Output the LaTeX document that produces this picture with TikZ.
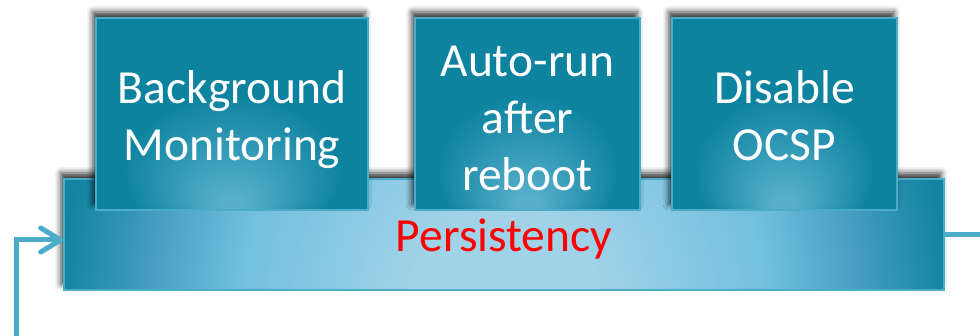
\documentclass[tikz,border=0pt]{standalone}
\usepackage{fontspec}
\setmainfont{Carlito}
\usetikzlibrary{arrows.meta,shadows.blur}

\definecolor{boxdark}{RGB}{13,131,160}
\definecolor{boxlight}{RGB}{88,176,204}
\definecolor{bardark}{RGB}{18,132,162}
\definecolor{barmid}{RGB}{74,160,196}
\definecolor{barsoft}{RGB}{114,192,224}
\definecolor{barlight}{RGB}{160,210,232}
\definecolor{edgeblue}{RGB}{75,172,200}

\pgfdeclareradialshading{boxglow}{\pgfpoint{0bp}{-25bp}}{%
  color(0bp)=(boxlight); color(2bp)=(boxlight); color(20bp)=(boxdark); color(50bp)=(boxdark)}
\pgfdeclareradialshading{barglow}{\pgfpoint{0bp}{0bp}}{%
  color(0bp)=(barlight); color(5bp)=(barlight); color(14bp)=(barsoft);
  color(18.5bp)=(barmid); color(23.5bp)=(bardark); color(50bp)=(bardark)}

\tikzset{
  softshadow/.style={blur shadow={shadow xshift=-3pt, shadow yshift=6pt,
      shadow blur radius=6pt, shadow opacity=80}},
  barbox/.style={draw=edgeblue, line width=1.5pt, fill=bardark,
      path picture={\shade[shading=barglow]
        ([yshift=-10pt]path picture bounding box.south) circle (470pt);},
      softshadow, minimum width=880pt, minimum height=111pt, inner sep=0pt},
  stepbox/.style={draw=edgeblue, line width=1.5pt, shading=boxglow,
      softshadow, minimum height=192pt, inner sep=0pt},
  steptext/.style={text=white, align=center, font=\fontsize{47.5}{57}\selectfont},
  looplabel/.style={text=red, font=\fontsize{47.5}{54}\selectfont},
  loopline/.style={draw=edgeblue, line width=5pt},
}

\begin{document}
\begin{tikzpicture}[x=1pt, y=-1pt]
  \useasboundingbox (0,0) rectangle (980,336);

  % Base bar
  \node[barbox] (bar) at (504,234.5) {};
  \node[looplabel, anchor=base] (persist) at (504,252) {Persistency};

  % Steps on top of the bar
  \node[stepbox, minimum width=272pt] (monitor) at (232,114) {};
  \node[stepbox, minimum width=225pt] (autorun) at (527.5,114) {};
  \node[stepbox, minimum width=225pt] (ocsp)    at (784.5,114) {};

  \node[steptext] (monitortxt) at (232,120)   {Background\\Monitoring};
  \node[steptext] (autoruntxt) at (527.5,118) {Auto-run\\after\\reboot};
  \node[steptext] (ocsptxt)    at (784.5,116) {Disable\\OCSP};

  % Loop back into the bar
  \coordinate (loopin)  at (16,340);
  \coordinate (loopout) at (984,234.5);
  \draw[loopline, -{Straight Barb[length=20pt, width=24pt, round]}]
    (loopin) |- ([yshift=-5.5pt]bar.west);
  \draw[loopline] (bar.east) -- (loopout);
\end{tikzpicture}
\end{document}
